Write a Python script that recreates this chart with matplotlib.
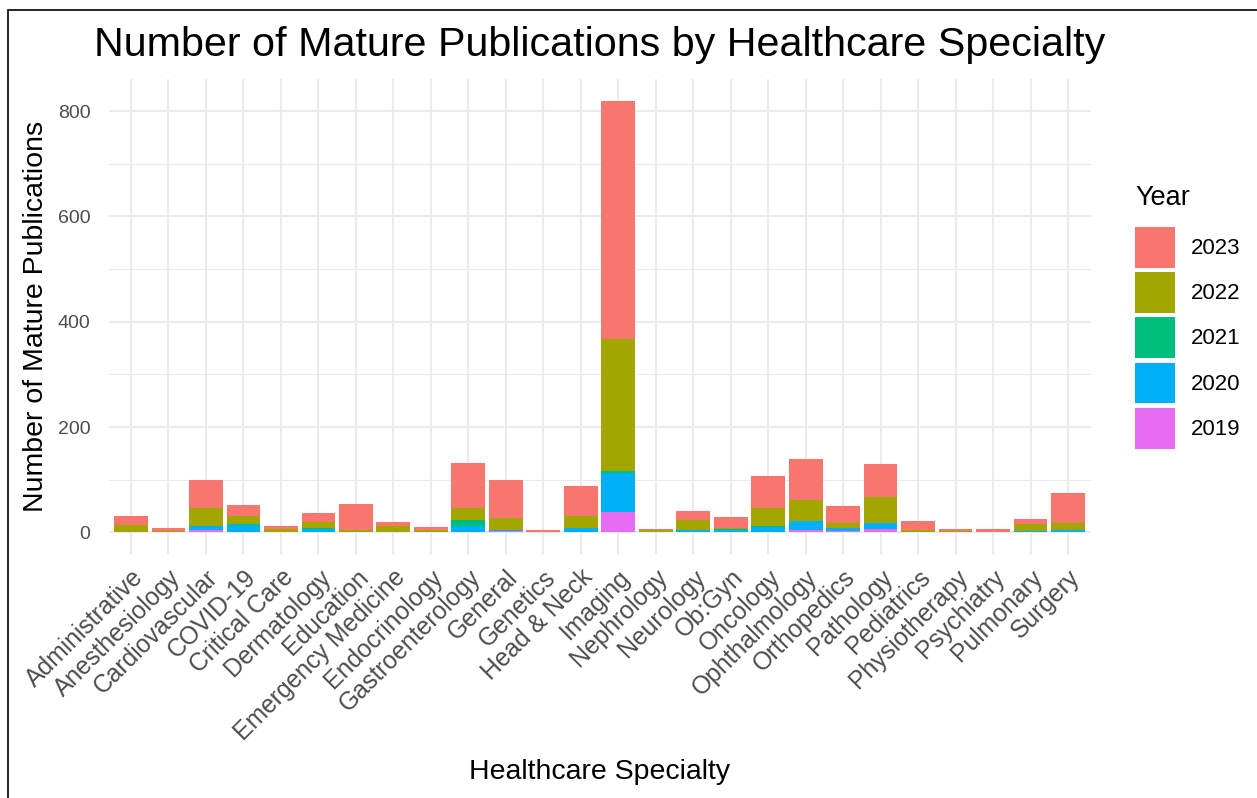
import matplotlib.pyplot as plt
import numpy as np
from matplotlib.patches import Patch, Rectangle


CATEGORIES = [
    "Administrative", "Anesthesiology", "Cardiovascular", "COVID-19", "Critical Care",
    "Dermatology", "Education", "Emergency Medicine", "Endocrinology", "Gastroenterology",
    "General", "Genetics", "Head & Neck", "Imaging", "Nephrology", "Neurology", "Ob:Gyn",
    "Oncology", "Ophthalmology", "Orthopedics", "Pathology", "Pediatrics", "Physiotherapy",
    "Psychiatry", "Pulmonary", "Surgery",
]
YEARS = ["2019", "2020", "2021", "2022", "2023"]
Y2019 = [0, 0, 5, 0, 0, 0, 0, 0, 0, 1, 2, 0, 0, 38, 0, 0, 0, 0, 5, 2, 6, 0, 0, 0, 0, 0]
Y2020 = [1, 0, 8, 15, 0, 7, 0, 0, 0, 11, 3, 0, 8, 75, 0, 5, 4, 10, 16, 6, 12, 0, 0, 0, 2, 4]
Y2021 = [0, 0, 0, 1, 0, 1, 0, 0, 0, 11, 0, 0, 0, 3, 0, 0, 2, 2, 0, 0, 0, 0, 0, 0, 1, 0]
Y2022 = [14, 3, 33, 16, 6, 11, 5, 12, 4, 23, 22, 1, 24, 251, 4, 18, 2, 34, 41, 9, 50, 5, 2, 1, 13, 14]
Y2023 = [16, 6, 53, 20, 7, 18, 49, 7, 7, 86, 72, 4, 57, 453, 3, 18, 22, 61, 78, 33, 62, 17, 4, 5, 10, 57]
COLORS = {"2019": "#E76BF3", "2020": "#00B0F6", "2021": "#00BF7D", "2022": "#A3A500", "2023": "#F8766D"}

plt.rcParams["font.family"] = ["Liberation Sans", "DejaVu Sans"]

W, H = 1257, 798
fig = plt.figure(figsize=(W / 100, H / 100), dpi=100)
ax = fig.add_axes([108.5 / W, 1 - 554 / H, 982 / W, 475 / H])

x = np.arange(len(CATEGORIES))
bottom = np.zeros(len(CATEGORIES))
for year, values in zip(YEARS, [Y2019, Y2020, Y2021, Y2022, Y2023]):
    ax.bar(x, values, width=0.9, bottom=bottom, color=COLORS[year], linewidth=0, zorder=3)
    bottom += np.array(values)

total_max = bottom.max()
ax.set_xlim(-0.6, len(CATEGORIES) - 0.4)
ax.set_ylim(-0.05 * total_max, total_max * 1.05)

ax.set_yticks([0, 200, 400, 600, 800])
ax.set_yticks([100, 300, 500, 700], minor=True)
ax.set_xticks(x)
ax.set_xticklabels(CATEGORIES, rotation=45, ha="right", va="top", rotation_mode="anchor")
ax.tick_params(axis="both", which="both", length=0, labelcolor="#4D4D4D")
ax.tick_params(axis="y", pad=13, labelsize=14)
ax.tick_params(axis="x", pad=8, labelsize=17.8)

ax.grid(which="major", color="#EBEBEB", linewidth=1.5, zorder=0)
ax.grid(which="minor", axis="y", color="#EBEBEB", linewidth=0.8, zorder=0)
for spine in ax.spines.values():
    spine.set_visible(False)

ax.set_ylabel("Number of Mature Publications", fontsize=20.5)
ax.yaxis.set_label_coords((49 - 108.5) / 982, 0.5)
ax.set_xlabel("Healthcare Specialty", fontsize=20.5)
ax.xaxis.set_label_coords(0.5, -(759 - 554) / 475)

fig.text(599.5 / W, 1 - 45 / H, "Number of Mature Publications by Healthcare Specialty",
         fontsize=29.7, ha="center", va="center")

handles = [Patch(facecolor=COLORS[y], edgecolor="none") for y in YEARS[::-1]]
leg = fig.legend(handles, YEARS[::-1], loc="upper left", bbox_to_anchor=(1135 / W, 1 - 226.7 / H),
                 frameon=False, fontsize=16, handlelength=1.8, handleheight=2.45,
                 labelspacing=0.2, handletextpad=0.72, borderpad=0, borderaxespad=0)
fig.text(1135 / W, 1 - 198 / H, "Year", fontsize=19.5, ha="left", va="center")

fig.patches.append(Rectangle((8 / W, -0.1), 1.2, 1.1 - 10 / H, transform=fig.transFigure,
                             fill=False, edgecolor="black", linewidth=1.2))

fig.savefig("out.png", dpi=100)
